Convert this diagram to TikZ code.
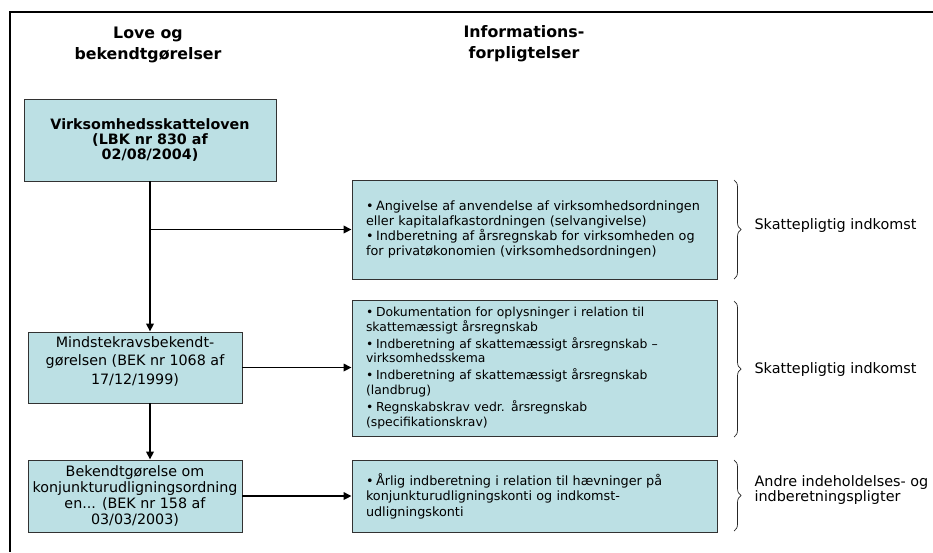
\documentclass[tikz,border=0pt]{standalone}
\usepackage{fontspec}
\setmainfont{DejaVu Sans}
\usetikzlibrary{arrows.meta,decorations.pathreplacing}

\definecolor{boxfill}{RGB}{188,224,228}
\definecolor{boxline}{RGB}{50,50,50}

% bullet paragraph with hanging indent
\newcommand{\bul}[1]{\leavevmode\hangindent=10pt\hangafter=1\makebox[10pt][l]{•}#1\par}

\tikzset{
  heading/.style={align=center, font=\fontsize{15.8}{21}\selectfont\bfseries},
  lawbox/.style={draw=boxline, line width=0.9pt, fill=boxfill, align=center,
    inner sep=2pt, font=\fontsize{14.3}{15}\selectfont},
  infobox/.style={draw=boxline, line width=0.9pt, fill=boxfill, align=left,
    inner xsep=14pt, inner ysep=2pt, text width=337pt, minimum width=365pt},
  arr/.style={line width=1.7pt, -{Triangle[length=8pt,width=7.5pt]}},
  curly/.style={draw=black!85, line width=0.7pt,
    decorate, decoration={brace, amplitude=7pt}},
  side/.style={anchor=west, align=left, font=\fontsize{14.4}{15.5}\selectfont}
}

\begin{document}
\begin{tikzpicture}[x=1pt, y=-1pt]
  \fill[white] (0,0) rectangle (933,552);
  \useasboundingbox (0,0) rectangle (933,552);

  % outer frame (top and left edges)
  \draw[line width=2pt] (9,12) -- (933,12);
  \draw[line width=2pt] (10,11) -- (10,552);

  % column headings
  \node[heading] (hlaw) at (148,45) {Love og\\bekendtgørelser};
  \node[heading] (hinfo) at (524,44) {Informations-\\forpligtelser};

  % laws and orders
  \node[lawbox, minimum width=252pt, minimum height=82pt,
        font=\fontsize{14.3}{15}\selectfont\bfseries] (vsl) at (150,140)
    {Virksomhedsskatteloven\\(LBK nr 830 af\\02/08/2004)};
  \node[lawbox, minimum width=214pt, minimum height=71pt,
        font=\fontsize{14.3}{18.5}\selectfont] (mkb) at (135,367.5)
    {Mindstekravsbekendt-\\gørelsen (BEK nr 1068 af\\17/12/1999)\\[-4pt]\mbox{}};
  \node[lawbox, minimum width=214pt, minimum height=72pt,
        font=\fontsize{14.3}{16}\selectfont] (kub) at (135,496)
    {Bekendtgørelse om\\konjunkturudligningsordning\\en... (BEK nr 158 af\\03/03/2003)};

  % information duties
  \node[infobox, minimum height=99pt, font=\fontsize{12.8}{15}\selectfont] (inf1) at (534.5,229.5)
    {\bul{Angivelse af anvendelse af virksomhedsordningen\\eller kapitalafkastordningen (selvangivelse)}%
     \bul{Indberetning af årsregnskab for virksomheden og\\for privatøkonomien (virksomhedsordningen)}};
  \node[infobox, minimum height=136pt, font=\fontsize{12.4}{14.7}\selectfont] (inf2) at (534.5,368)
    {\setlength{\parskip}{2.2pt}%
     \bul{Dokumentation for oplysninger i relation til\\skattemæssigt årsregnskab}%
     \bul{Indberetning af skattemæssigt årsregnskab –\\virksomhedsskema}%
     \bul{Indberetning af skattemæssigt årsregnskab\\(landbrug)}%
     \bul{Regnskabskrav vedr. årsregnskab\\(specifikationskrav)}};
  \node[infobox, minimum height=72pt, font=\fontsize{12.8}{15.5}\selectfont] (inf3) at (534.5,496)
    {\bul{Årlig indberetning i relation til hævninger på\\konjunkturudligningskonti og indkomst-\\udligningskonti}};

  % connectors
  \draw[arr] (vsl.south) -- (vsl.south |- mkb.north);
  \draw[arr] (vsl.south |- mkb.south) -- (vsl.south |- kub.north);
  \coordinate (branch) at (vsl.south |- inf1.west);
  \draw[arr] (branch) -- (inf1.west);
  \draw[arr] (mkb.east) -- (mkb.east -| inf2.west);
  \draw[arr] (kub.east) -- (kub.east -| inf3.west);

  % braces and their labels
  \coordinate (b1t) at (734,180);  \coordinate (b1b) at (734,279);
  \coordinate (b2t) at (734,301);  \coordinate (b2b) at (734,437);
  \coordinate (b3t) at (734,460);  \coordinate (b3b) at (734,531);
  \draw[curly] (b1t) -- (b1b);
  \draw[curly] (b2t) -- (b2b);
  \draw[curly] (b3t) -- (b3b);
  \node[side] (l1) at (751,226) {Skattepligtig indkomst};
  \node[side] (l2) at (751,370) {Skattepligtig indkomst};
  \node[side] (l3) at (751,490) {Andre indeholdelses- og\\indberetningspligter};
\end{tikzpicture}
\end{document}
